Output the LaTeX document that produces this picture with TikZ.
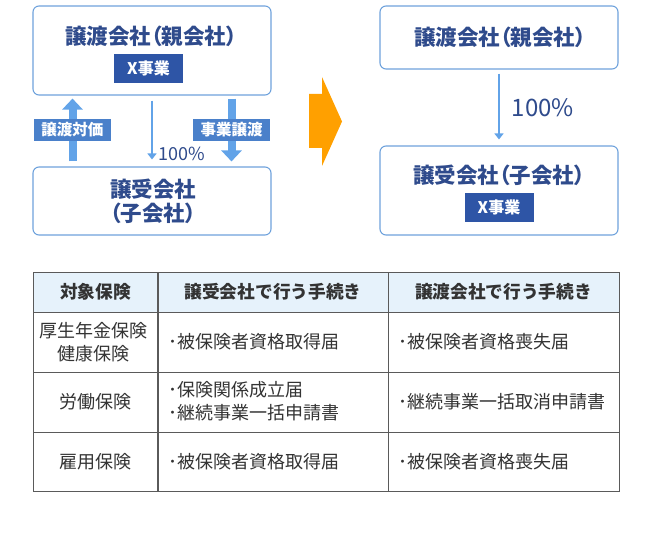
\documentclass[tikz,border=0pt]{standalone}
\usepackage{fontspec}
\setmainfont{Noto Sans CJK JP}
\newfontfamily\titlefont{Noto Sans CJK JP}[RawFeature=+palt]
\usetikzlibrary{arrows.meta,positioning}
\definecolor{boxline}{HTML}{6FA2DC}
\definecolor{titleblue}{HTML}{2F4B8C}
\definecolor{darkblue}{HTML}{2E55A6}
\definecolor{labelblue}{HTML}{4A80CA}
\definecolor{arrowblue}{HTML}{62A3E8}
\definecolor{niceorange}{HTML}{FFA000}
\definecolor{headfill}{HTML}{E6F2FB}
\definecolor{gridgrey}{HTML}{5A5A5A}
\definecolor{textgrey}{HTML}{333333}
\tikzset{
    % Boxes
    company/.style={draw=boxline,line width=1.1pt,rounded corners=6pt,minimum width=238pt,inner sep=0pt},
    company title/.style={inner sep=0pt,text=titleblue,font=\titlefont\fontsize{21.5}{24}\selectfont\bfseries,align=center},
    business/.style={fill=darkblue,text=white,inner sep=0pt,minimum width=69pt,minimum height=29pt,font=\fontsize{16}{18}\selectfont\bfseries},
    flow label/.style={fill=labelblue,text=white,inner sep=0pt,minimum width=77pt,minimum height=22pt,font=\fontsize{15.5}{18}\selectfont\bfseries},
    percent/.style={inner sep=0pt,text=titleblue,font=\fontsize{#1}{#1}\selectfont},
    %
    % Arrows
    fat arrow/.style={arrowblue,line width=8pt,-{Triangle[width=20pt,length=11pt]}},
    thin arrow/.style={arrowblue,line width=2.6pt,-{Triangle[width=9pt,length=6pt]}},
    %
    % Table
    grid line/.style={gridgrey,line width=0.9pt},
    cell/.style={inner sep=0pt,text=textgrey,font=\fontsize{18}{23}\selectfont},
    head cell/.style={cell,font=\fontsize{17.7}{23}\selectfont\bfseries},
    item cell/.style={cell,anchor=west,align=left}
}

\begin{document}
\begin{tikzpicture}[x=1pt,y=-1pt]
    \useasboundingbox (0,0) rectangle (648,540);
    % before
    \node[company,minimum height=89pt] (giver) at (152,50.5) {};
    \node[company title] (giver title) at (151,36) {譲渡会社（親会社）};
    \node[business] (giver x) at (148.5,68.5) {X事業};
    \node[company,minimum height=68pt] (taker) at (152,201) {};
    \node[company title] (taker title) at (153,201) {譲受会社\\（子会社）};
    \coordinate (pay axis) at (72.5,130);
    \coordinate (sale axis) at (231.5,130);
    \coordinate (share axis) at (152,130);
    \draw[fat arrow,shorten <=5pt,shorten >=3pt] (taker.north -| pay axis) -- (giver.south -| pay axis);
    \draw[fat arrow,shorten <=3pt,shorten >=5pt] (giver.south -| sale axis) -- (taker.north -| sale axis);
    \draw[thin arrow,shorten <=5pt,shorten >=7pt] (giver.south -| share axis) -- (taker.north -| share axis);
    \node[flow label] (pay) at (pay axis) {譲渡対価};
    \node[flow label] (sale) at (sale axis) {事業譲渡};
    \node[percent=18,anchor=west] (share) at (158,154) {100\%};
    %
    % turn
    \fill[niceorange] (309,94) -- (322,94) -- (322,77) -- (342,121.5) -- (322,166) -- (322,148) -- (309,148) -- cycle;
    %
    % after
    \node[company,minimum height=63pt] (parent) at (499,37.5) {};
    \node[company title] (parent title) at (500,37) {譲渡会社（親会社）};
    \node[company,minimum height=89pt] (child) at (499,190.5) {};
    \node[company title] (child title) at (499,175) {譲受会社（子会社）};
    \node[business] (child x) at (499,207.5) {X事業};
    \draw[thin arrow,shorten <=4pt,shorten >=6pt] (parent) -- (child);
    \node[percent=24] (own) at (543,108) {100\%};
    %
    % table
    \fill[headfill] (33,272) rectangle (619,312);
    \draw[grid line] (33,272) rectangle (619,491);
    \draw[grid line] (33,312) -- (619,312) (33,372) -- (619,372) (33,432) -- (619,432);
    \draw[grid line,line width=1.4pt] (158,272) -- (158,491);
    \draw[grid line] (388,272) -- (388,491);
    \node[head cell] (h1) at (95.5,292) {対象保険};
    \node[head cell] (h2) at (273,292) {譲受会社で行う手続き};
    \node[head cell] (h3) at (503.5,292) {譲渡会社で行う手続き};
    \node[cell,align=center] (r1) at (93,342) {厚生年金保険\\健康保険};
    \node[item cell] (r1a) at (168,342) {･被保険者資格取得届};
    \node[item cell] (r1b) at (398,342) {･被保険者資格喪失届};
    \node[cell] (r2) at (95.5,402) {労働保険};
    \node[item cell] (r2a) at (168,401) {･保険関係成立届\\･継続事業一括申請書};
    \node[item cell] (r2b) at (398,402) {･継続事業一括取消申請書};
    \node[cell] (r3) at (95.5,462) {雇用保険};
    \node[item cell] (r3a) at (168,462) {･被保険者資格取得届};
    \node[item cell] (r3b) at (398,462) {･被保険者資格喪失届};
\end{tikzpicture}
\end{document}
